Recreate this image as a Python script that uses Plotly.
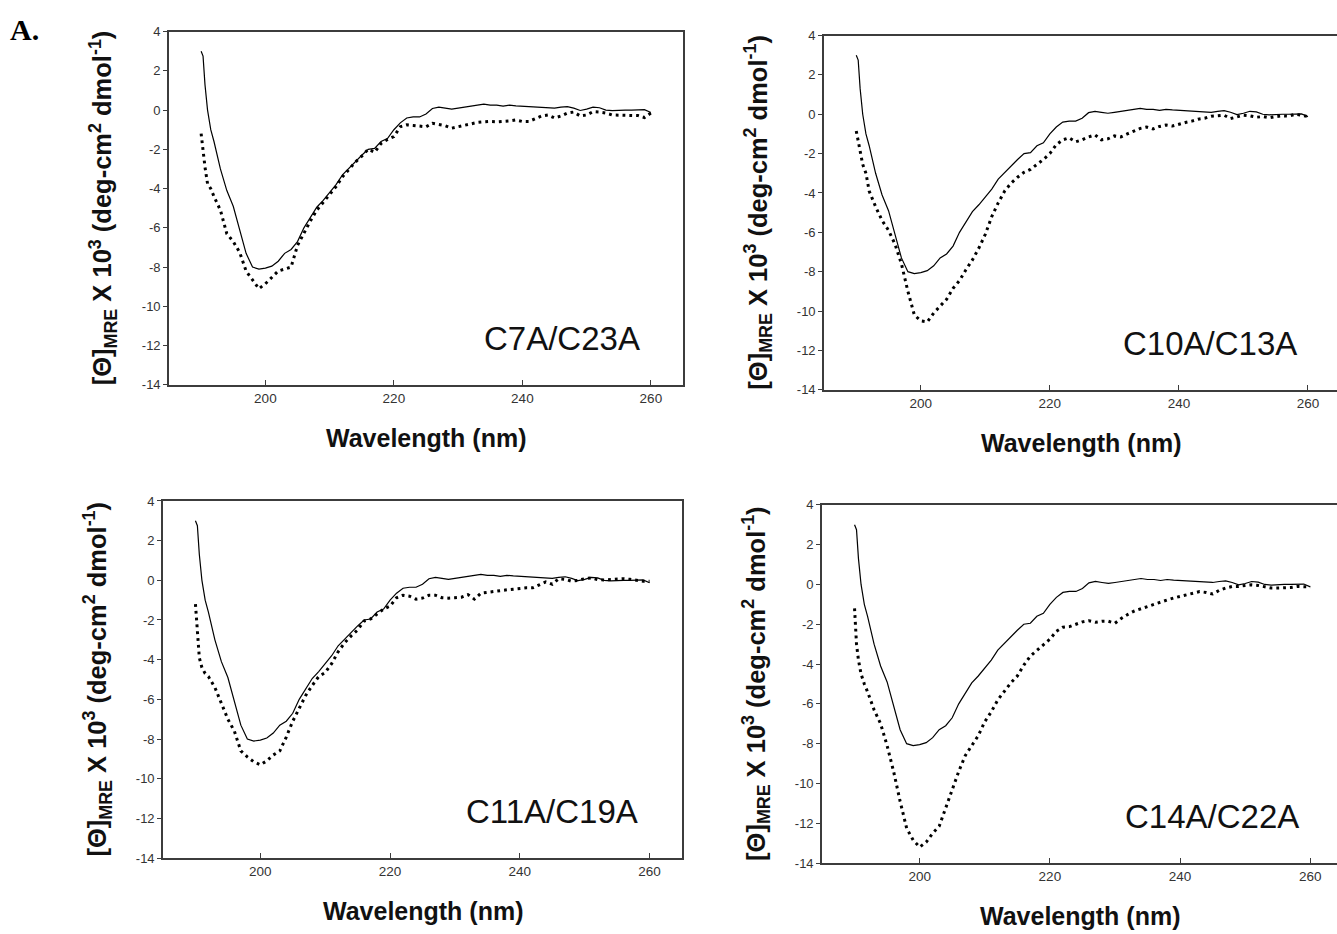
import plotly.graph_objects as go

# ---------------- data ----------------
wavelength = [190, 190.3, 190.6, 191, 191.5,
              192, 193, 194, 195, 196, 197, 198, 199, 200, 201,
              202, 203, 204, 205, 206, 207, 208, 209, 210, 211,
              212, 213, 214, 215, 216, 217, 218, 219, 220, 221,
              222, 223, 224, 225, 226, 227, 228, 229, 230, 231,
              232, 233, 234, 235, 236, 237, 238, 239, 240, 241,
              242, 243, 244, 245, 246, 247, 248, 249, 250, 251,
              252, 253, 254, 255, 256, 257, 258, 259, 260]

# solid reference curve (same in all four panels)
solid_curve = [3.0, 2.75, 1.3, 0.0, -1.0,
               -1.6, -3.0, -4.1, -4.9, -6.1, -7.3, -8.0, -8.1, -8.05, -7.95,
               -7.7, -7.3, -7.1, -6.7, -6.0, -5.45, -4.95, -4.6, -4.2, -3.8,
               -3.3, -2.95, -2.6, -2.3, -2.0, -1.95, -1.6, -1.45, -1.0, -0.65,
               -0.4, -0.35, -0.35, -0.2, 0.08, 0.15, 0.1, 0.05, 0.1, 0.15,
               0.2, 0.25, 0.3, 0.25, 0.25, 0.2, 0.25, 0.22, 0.2, 0.15,
               0.15, 0.12, 0.12, 0.1, 0.15, 0.18, 0.1, -0.02, 0.05, 0.15,
               0.12, 0.0, -0.03, 0.0, 0.0, 0.0, 0.0, 0.02, -0.12]

dotted_c7a_c23a = [-1.2, -2.1, -2.9, -3.75, -4.0,
                   -4.4, -5.1, -6.3, -6.7, -7.25, -8.2, -8.65, -9.1, -8.85, -8.5,
                   -8.2, -8.1, -8.0, -6.9, -6.25, -5.65, -5.1, -4.7, -4.35, -3.9,
                   -3.4, -3.0, -2.65, -2.35, -2.0, -2.15, -1.7, -1.5, -1.35, -0.85,
                   -0.75, -0.78, -0.8, -0.85, -0.67, -0.72, -0.8, -0.92, -0.85, -0.78,
                   -0.7, -0.63, -0.6, -0.58, -0.6, -0.58, -0.55, -0.5, -0.58, -0.58,
                   -0.45, -0.3, -0.25, -0.4, -0.3, -0.15, -0.1, -0.3, -0.25, -0.08,
                   -0.1, -0.15, -0.25, -0.25, -0.25, -0.25, -0.28, -0.38, -0.15]

dotted_c10a_c13a = [-0.85, -1.4, -1.9, -2.55, -3.0,
                    -3.9, -4.7, -5.4, -5.9, -6.6, -7.6, -9.0, -10.2, -10.5, -10.55,
                    -10.1, -9.75, -9.4, -8.85, -8.45, -7.9, -7.4, -6.8, -6.1, -5.2,
                    -4.5, -3.9, -3.5, -3.2, -2.95, -2.8, -2.55, -2.3, -2.0, -1.55,
                    -1.3, -1.2, -1.4, -1.3, -1.15, -1.05, -1.3, -1.25, -1.1, -1.15,
                    -1.0, -0.85, -0.72, -0.65, -0.75, -0.62, -0.55, -0.6, -0.5, -0.42,
                    -0.35, -0.25, -0.2, -0.1, -0.08, -0.05, -0.22, -0.15, -0.05, -0.08,
                    -0.15, -0.12, -0.18, -0.12, -0.08, -0.1, 0.0, -0.05, -0.12]

dotted_c11a_c19a = [-1.2, -2.8, -3.9, -4.4, -4.7,
                    -4.85, -5.4, -6.2, -7.0, -7.6, -8.6, -8.9, -9.15, -9.3, -9.1,
                    -8.8, -8.6, -7.9, -7.1, -6.45, -5.8, -5.3, -4.85, -4.65, -4.2,
                    -3.6, -3.15, -2.8, -2.5, -2.05, -1.95, -1.7, -1.45, -1.3, -0.88,
                    -0.75, -0.8, -0.95, -0.9, -0.75, -0.75, -0.88, -0.9, -0.88, -0.85,
                    -0.72, -0.95, -0.65, -0.6, -0.55, -0.52, -0.48, -0.45, -0.4, -0.38,
                    -0.38, -0.25, -0.08, -0.2, 0.08, 0.05, -0.05, 0.0, 0.08, 0.12,
                    0.03, 0.02, 0.03, 0.05, 0.08, 0.05, 0.0, -0.05, -0.05]

dotted_c14a_c22a = [-1.2, -3.0, -3.8, -4.5, -5.0,
                    -5.4, -6.3, -7.0, -8.1, -9.4, -10.9, -12.25, -12.85, -13.2, -12.95,
                    -12.5, -12.15, -11.2, -10.3, -9.4, -8.6, -8.1, -7.6, -6.9, -6.4,
                    -5.8, -5.35, -4.95, -4.6, -4.05, -3.6, -3.3, -3.05, -2.75, -2.35,
                    -2.15, -2.12, -2.0, -1.88, -1.82, -1.9, -1.85, -1.85, -1.95, -1.7,
                    -1.5, -1.33, -1.22, -1.1, -0.98, -0.88, -0.78, -0.68, -0.6, -0.5,
                    -0.42, -0.36, -0.4, -0.48, -0.3, -0.18, -0.1, -0.1, -0.05, -0.02,
                    -0.05, -0.12, -0.18, -0.18, -0.18, -0.15, -0.1, -0.1, -0.13]

panel_labels = ["C7A/C23A", "C10A/C13A", "C11A/C19A", "C14A/C22A"]
dotted_series = [dotted_c7a_c23a, dotted_c10a_c13a, dotted_c11a_c19a, dotted_c14a_c22a]

x_tick_vals = [200, 220, 240, 260]
x_tick_text = ["200", "220", "240", "260"]
y_tick_vals = [4, 2, 0, -2, -4, -6, -8, -10, -12, -14]
y_tick_text = ["4", "2", "0", "-2", "-4", "-6", "-8", "-10", "-12", "-14"]

y_title = "[Θ]<sub>MRE</sub> X 10<sup>3</sup> (deg-cm<sup>2</sup> dmol<sup>-1</sup>)"
x_title = "Wavelength (nm)"

# ---------------- layout geometry (pixels) ----------------
W, H = 1337, 934
# left, right, top, bottom, x-range max, right border shown
boxes = [
    (169, 683, 25, 384, 265.0, True),
    (824, 1337, 29, 389, 264.5, False),
    (163, 682, 502, 865, 265.0, True),
    (822, 1337, 506, 870, 264.1, False),
]

fig = go.Figure()
layout = dict(
    width=W, height=H,
    margin=dict(l=0, r=0, t=0, b=0),
    paper_bgcolor="white", plot_bgcolor="white",
    showlegend=False,
    font=dict(family="Arial, Liberation Sans, sans-serif", color="#222"),
)
annotations = []
axis_color = "#3c3c3c"
FONT = "Arial, Liberation Sans, sans-serif"

for i, (L, R, T, B, xmax, mirror) in enumerate(boxes):
    n = "" if i == 0 else str(i + 1)
    xa, ya = "x" + n, "y" + n
    fig.add_trace(go.Scatter(x=wavelength, y=solid_curve, mode="lines",
                             line=dict(color="black", width=1.2),
                             xaxis=xa, yaxis=ya, hoverinfo="skip"))
    fig.add_trace(go.Scatter(x=wavelength, y=dotted_series[i], mode="lines",
                             line=dict(color="black", width=3, dash="2.8px,4px"),
                             xaxis=xa, yaxis=ya, hoverinfo="skip"))
    layout["xaxis" + n] = dict(
        domain=[L / W, R / W], anchor=ya, range=[185, xmax],
        tickvals=x_tick_vals, ticktext=x_tick_text,
        ticks="inside", ticklen=5, tickwidth=1.2, tickcolor=axis_color,
        showline=True, linecolor=axis_color, linewidth=1.6, mirror=True,
        showgrid=False, zeroline=False,
        tickfont=dict(size=13.5, color="#333", family=FONT),
    )
    layout["yaxis" + n] = dict(
        domain=[1 - B / H, 1 - T / H], anchor=xa, range=[-14, 4],
        tickvals=y_tick_vals, ticktext=y_tick_text,
        ticks="outside", ticklen=4, tickwidth=1.2, tickcolor=axis_color,
        showline=True, linecolor=axis_color, linewidth=1.6, mirror=mirror,
        showgrid=False, zeroline=False,
        tickfont=dict(size=13, color="#333", family=FONT),
    )
    # panel label
    annotations.append(dict(x=258.6, y=-11.65, xref=xa, yref=ya,
                            text=panel_labels[i], showarrow=False,
                            xanchor="right", yanchor="middle",
                            font=dict(size=33, color="#111", family=FONT)))
    # y title
    annotations.append(dict(x=(L - 66) / W, y=1 - (T + B) / 2 / H,
                            xref="paper", yref="paper", text="<b>" + y_title + "</b>",
                            textangle=-90, showarrow=False,
                            xanchor="center", yanchor="middle",
                            font=dict(size=25.5, color="#111", family=FONT)))
    # x title
    annotations.append(dict(x=(L + min(R, L + 80 * (R - L) / (xmax - 185))) / 2 / W,
                            y=1 - (B + 54) / H,
                            xref="paper", yref="paper", text="<b>" + x_title + "</b>",
                            showarrow=False, xanchor="center", yanchor="middle",
                            font=dict(size=25, color="#111", family=FONT)))

annotations.append(dict(x=8 / W, y=1 - 23 / H, xref="paper", yref="paper",
                        text="<b>A.</b>", showarrow=False,
                        xanchor="left", yanchor="middle",
                        font=dict(size=30, color="black",
                                  family="Liberation Serif, Times New Roman, serif")))

layout["annotations"] = annotations
fig.update_layout(**layout)
fig.write_html("out.html")
